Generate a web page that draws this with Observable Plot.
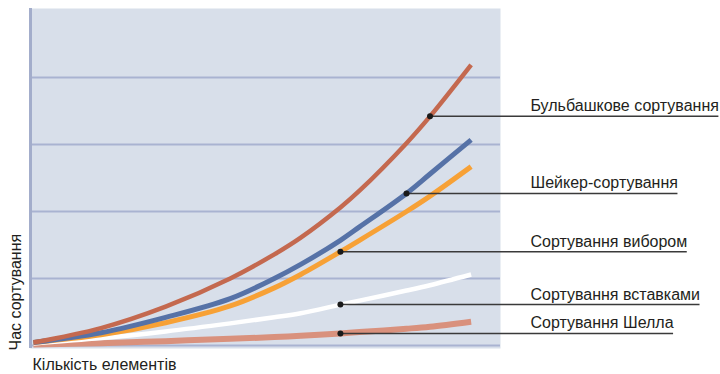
<!DOCTYPE html>
<html>
<head>
<meta charset="utf-8">
<script src="https://cdn.jsdelivr.net/npm/d3@7"></script>
<script src="https://cdn.jsdelivr.net/npm/@observablehq/plot@0.6"></script>
<style>
  html, body { margin: 0; padding: 0; background: #fff; }
  #chart svg { display: block; }
</style>
</head>
<body>
<div id="chart"></div>
<script>
// ---- data ----
const nValues = [0.1, 2.4, 4.6, 6.8, 8.3, 9.2, 10.55, 11.2, 12.8, 13.6, 15];
const bubble    = [0.045, 0.26, 0.58, 1.00, 1.36, 1.61, 2.06, 2.31, 3.02, 3.42, 4.19];
const shaker    = [0.045, 0.19, 0.42, 0.70, 1.00, 1.21, 1.57, 1.77, 2.27, 2.56, 3.07];
const selection = [0.045, 0.16, 0.34, 0.59, 0.86, 1.06, 1.40, 1.57, 2.00, 2.23, 2.67];
const insertion = [0.03, 0.11, 0.21, 0.33, 0.42, 0.48, 0.61, 0.67, 0.82, 0.90, 1.06];
const shell     = [0.015, 0.035, 0.065, 0.10, 0.125, 0.145, 0.18, 0.20, 0.25, 0.28, 0.355];

const seriesNames = ["Бульбашкове сортування", "Шейкер-сортування", "Сортування вибором", "Сортування вставками", "Сортування Шелла"];
const seriesValues = [bubble, shaker, selection, insertion, shell];
const seriesColors = ["#c4694f", "#5672a7", "#f7a136", "#ffffff", "#d9917d"];
const seriesWidths = [4.5, 5, 5, 4.5, 6];
const dotN = [13.6, 12.8, 10.55, 10.55, 10.55];
const dotV = [3.42, 2.27, 1.40, 0.61, 0.18];
const gridTicks = [0, 1, 2, 3, 4];
const labelN = 17.02;
const xLabel = "Кількість елементів";
const yLabel = "Час сортування";

// ---- layout helpers ----
const FONT = "16px 'Liberation Sans', Arial, sans-serif";
const xDomain = [0, 16], xRange = [30, 500];
const pxPerUnit = (xRange[1] - xRange[0]) / (xDomain[1] - xDomain[0]);
const ctx = document.createElement("canvas").getContext("2d");
ctx.font = FONT;

const labels = seriesNames.map((name, i) => ({
  name, n: dotN[i], v: dotV[i],
  end: labelN + ctx.measureText(name).width / pxPerUnit
}));

const lineData = [];
seriesValues.forEach((vals, i) => vals.forEach((v, j) => lineData.push({s: seriesNames[i], n: nValues[j], v})));
const drawOrder = [4, 3, 2, 1, 0];

const marks = [
  Plot.frame({fill: "#d8dfea", stroke: null}),
  Plot.ruleY(gridTicks, {stroke: "#a9b3d1", strokeWidth: 2}),
  Plot.ruleX([0], {y1: -0.045, y2: 5.03, stroke: "#a3adcb", strokeWidth: 3}),
  ...drawOrder.map(i => Plot.line(lineData.filter(d => d.s === seriesNames[i]), {
    x: "n", y: "v", stroke: seriesColors[i], strokeWidth: seriesWidths[i],
    curve: "catmull-rom", strokeLinecap: "butt"
  })),
  Plot.ruleY(labels, {x1: "n", x2: "end", y: "v", stroke: "#3a3a3a", strokeWidth: 1.5}),
  Plot.dot(labels, {x: "n", y: "v", r: 3, fill: "#1a1a1a", stroke: null}),
  Plot.text(labels, {x: labelN, y: "v", text: "name", textAnchor: "start", lineAnchor: "bottom", dy: -5, fill: "#231f20", fontSize: 16}),
  Plot.text([xLabel], {frameAnchor: "bottom-left", textAnchor: "start", lineAnchor: "bottom", dx: 2, dy: 21, fill: "#231f20", fontSize: 16}),
  Plot.text([yLabel], {frameAnchor: "bottom-left", rotate: -90, textAnchor: "start", lineAnchor: "middle", dx: -15, dy: 2, fill: "#231f20", fontSize: 16})
];

const chart = Plot.plot({
  width: 720,
  height: 374,
  marginLeft: 30,
  marginRight: 220,
  marginTop: 8,
  marginBottom: 26,
  style: {fontFamily: "'Liberation Sans', Arial, sans-serif", background: "#fff", overflow: "visible"},
  x: {domain: xDomain, axis: null},
  y: {domain: [-0.045, 5.03], axis: null},
  marks
});
document.getElementById("chart").appendChild(chart);
</script>
</body>
</html>
